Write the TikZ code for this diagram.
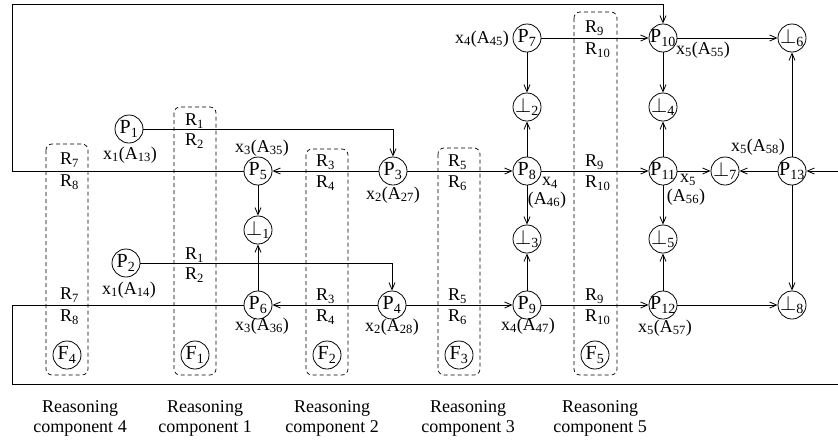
\documentclass[tikz,border=0pt]{standalone}
\usepackage{fontspec}
\setmainfont{Liberation Serif}
\usetikzlibrary{arrows.meta}
\newcommand\sbs[1]{\textsubscript{#1}}
\newcommand\btm[1]{$\perp$\textsubscript{#1}}
\begin{document}
\begin{tikzpicture}[x=1pt,y=-1pt,font=\fontsize{18}{20}\selectfont,
  pn/.style={circle,draw,minimum size=28pt,inner sep=-2pt,line width=0.8pt,font=\fontsize{20}{22}\selectfont},
  conn/.style={line width=0.8pt},
  arr/.style={conn,-{Straight Barb[length=7pt,width=6pt]}},
  dbox/.style={draw,dash pattern=on 4pt off 3pt,rounded corners=6pt,line width=0.7pt},
  lab/.style={inner sep=0pt},
  rl/.style={inner sep=0pt,anchor=west}]
\useasboundingbox (0,0) rectangle (838,445);
% dashed boxes
\draw[dbox] (46,144) rectangle (88,375);
\draw[dbox] (174,107) rectangle (216,375);
\draw[dbox] (306,149) rectangle (348,375);
\draw[dbox] (438,148) rectangle (480,375);
\draw[dbox] (574,12) rectangle (617,375);
% nodes
\node[pn] (P1) at (129,129) {P\sbs{1}};
\node[pn] (P2) at (126,263) {P\sbs{2}};
\node[pn] (P3) at (393,171) {P\sbs{3}};
\node[pn] (P4) at (392,305) {P\sbs{4}};
\node[pn] (P5) at (258,171) {P\sbs{5}};
\node[pn] (P6) at (258,305) {P\sbs{6}};
\node[pn] (P7) at (527,38) {P\sbs{7}};
\node[pn] (P8) at (527,171) {P\sbs{8}};
\node[pn] (P9) at (527,305) {P\sbs{9}};
\node[pn] (P10) at (663,38) {P\sbs{10}};
\node[pn] (P11) at (663,171) {P\sbs{11}};
\node[pn] (P12) at (663,305) {P\sbs{12}};
\node[pn] (P13) at (792,171) {P\sbs{13}};
\node[pn] (B1) at (258,230) {\btm{1}};
\node[pn] (B2) at (527,107) {\btm{2}};
\node[pn] (B3) at (527,239) {\btm{3}};
\node[pn] (B4) at (663,107) {\btm{4}};
\node[pn] (B5) at (663,239) {\btm{5}};
\node[pn] (B6) at (792,38) {\btm{6}};
\node[pn] (B7) at (725,171) {\btm{7}};
\node[pn] (B8) at (792,305) {\btm{8}};
\node[pn] (F4) at (67,355) {F\sbs{4}};
\node[pn] (F1) at (195,355) {F\sbs{1}};
\node[pn] (F2) at (327,355) {F\sbs{2}};
\node[pn] (F3) at (459,355) {F\sbs{3}};
\node[pn] (F5) at (595,355) {F\sbs{5}};
% connectors
\draw[arr] (P1) -| (P3);
\draw[arr] (P2) -| (P4);
\draw[arr] (P3) -- (P5);
\draw[arr] (P3) -- (P8);
\draw[arr] (P4) -- (P6);
\draw[arr] (P4) -- (P9);
\draw[arr] (P5) -- (B1);
\draw[arr] (P6) -- (B1);
\draw[arr] (P7) -- (B2);
\draw[arr] (P8) -- (B2);
\draw[arr] (P8) -- (B3);
\draw[arr] (P9) -- (B3);
\draw[arr] (P7) -- (P10);
\draw[arr] (P8) -- (P11);
\draw[arr] (P9) -- (P12);
\draw[arr] (P10) -- (B6);
\draw[arr] (P10) -- (B4);
\draw[arr] (P11) -- (B4);
\draw[arr] (P11) -- (B5);
\draw[arr] (P12) -- (B5);
\draw[arr] (P11) -- (B7);
\draw[arr] (P13) -- (B7);
\draw[arr] (P13) -- (B6);
\draw[arr] (P13) -- (B8);
\draw[arr] (P12) -- (B8);
\coordinate (c1) at (12,4);
\coordinate (c2) at (12,384);
\coordinate (c3) at (846,384);
\draw[arr] (P5) -| (c1) -| (P10);
\draw[arr] (P6) -| (c2) -- (c3) |- (P13);
% R labels
\node[rl] (r7a) at (60,160) {R\sbs{7}};
\node[rl] (r8a) at (60,182) {R\sbs{8}};
\node[rl] (r7b) at (60,295) {R\sbs{7}};
\node[rl] (r8b) at (60,317) {R\sbs{8}};
\node[rl] (r1a) at (185,121) {R\sbs{1}};
\node[rl] (r2a) at (185,141) {R\sbs{2}};
\node[rl] (r1b) at (185,255) {R\sbs{1}};
\node[rl] (r2b) at (185,275) {R\sbs{2}};
\node[rl] (r3a) at (316,162) {R\sbs{3}};
\node[rl] (r4a) at (316,183) {R\sbs{4}};
\node[rl] (r3b) at (316,296) {R\sbs{3}};
\node[rl] (r4b) at (316,317) {R\sbs{4}};
\node[rl] (r5a) at (448,162) {R\sbs{5}};
\node[rl] (r6a) at (448,183) {R\sbs{6}};
\node[rl] (r5b) at (448,296) {R\sbs{5}};
\node[rl] (r6b) at (448,317) {R\sbs{6}};
\node[rl] (r9a) at (585,28) {R\sbs{9}};
\node[rl] (r10a) at (585,50) {R\sbs{10}};
\node[rl] (r9b) at (585,162) {R\sbs{9}};
\node[rl] (r10b) at (585,183) {R\sbs{10}};
\node[rl] (r9c) at (585,296) {R\sbs{9}};
\node[rl] (r10c) at (585,317) {R\sbs{10}};
% x labels
\node[lab] (l13) at (130,155) {x\sbs{1}(A\sbs{13})};
\node[lab] (l14) at (129,290) {x\sbs{1}(A\sbs{14})};
\node[lab] (l35) at (262,148) {x\sbs{3}(A\sbs{35})};
\node[lab] (l36) at (262,326) {x\sbs{3}(A\sbs{36})};
\node[lab] (l27) at (393,195) {x\sbs{2}(A\sbs{27})};
\node[lab] (l28) at (392,327) {x\sbs{2}(A\sbs{28})};
\node[lab] (l45) at (482,39) {x\sbs{4}(A\sbs{45})};
\node[lab] (l46a) at (550,183) {x\sbs{4}};
\node[lab] (l46b) at (547,200) {(A\sbs{46})};
\node[lab] (l47) at (528,326) {x\sbs{4}(A\sbs{47})};
\node[lab] (l55) at (703,50) {x\sbs{5}(A\sbs{55})};
\node[lab] (l56a) at (688,180) {x\sbs{5}};
\node[lab] (l56b) at (686,197) {(A\sbs{56})};
\node[lab] (l57) at (665,328) {x\sbs{5}(A\sbs{57})};
\node[lab] (l58) at (758,147) {x\sbs{5}(A\sbs{58})};
% component labels
\node[lab,align=center] (rc4) at (80,418) {Reasoning\\component 4};
\node[lab,align=center] (rc1) at (205,418) {Reasoning\\component 1};
\node[lab,align=center] (rc2) at (332,418) {Reasoning\\component 2};
\node[lab,align=center] (rc3) at (468,418) {Reasoning\\component 3};
\node[lab,align=center] (rc5) at (600,418) {Reasoning\\component 5};
\end{tikzpicture}
\end{document}
